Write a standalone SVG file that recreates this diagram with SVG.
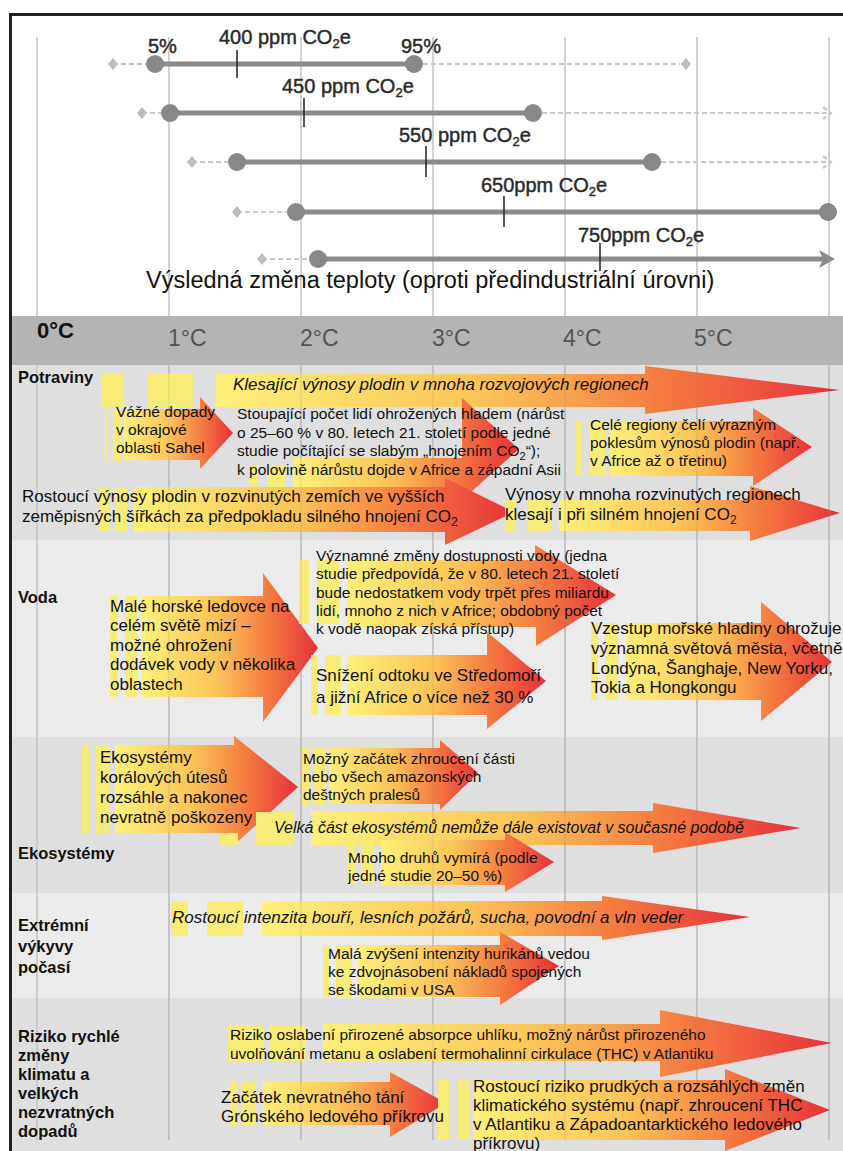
<svg xmlns="http://www.w3.org/2000/svg" width="843" height="1151" viewBox="0 0 843 1151">
<defs>
<style>
.t{font-family:"Liberation Sans",Arial,sans-serif;fill:#111}
.s15{font-size:15.5px}
.s17{font-size:17px}
.it{font-style:italic}
.lab{font-family:"Liberation Sans",Arial,sans-serif;font-weight:bold;font-size:16.5px;fill:#111}
.ppm{font-family:"Liberation Sans",Arial,sans-serif;font-size:20px;fill:#2a2a2a;stroke:#2a2a2a;stroke-width:0.45}
.deg{font-family:"Liberation Sans",Arial,sans-serif;font-size:23px;fill:#555}
.st{fill:#f8ec78}
.ar{fill:url(#grad)}
.grid{stroke:#c4c4c4;stroke-width:1.5}
.gridov{stroke:#8a8a8a;stroke-width:1;opacity:0.25}
.dash{stroke:#c8c8c8;stroke-width:2.2;stroke-dasharray:5 3;fill:none}
.bar{stroke:#8a8a8a;stroke-width:5}
.dot{fill:#888}
.dia{fill:#bdbdbd}
.tick{stroke:#222;stroke-width:1.5}
</style>
<linearGradient id="grad" x1="0" y1="0" x2="1" y2="0">
<stop offset="0" stop-color="#fdf07a"/>
<stop offset="0.42" stop-color="#fcc558"/>
<stop offset="0.72" stop-color="#f47a40"/>
<stop offset="1" stop-color="#e8303a"/>
</linearGradient>
</defs>
<rect width="843" height="1151" fill="#fff"/>
<g id="backgrounds">
<rect x="12" y="365" width="831" height="175" fill="#dfdfdf"/>
<rect x="12" y="540" width="831" height="197" fill="#ebebeb"/>
<rect x="12" y="737" width="831" height="156" fill="#dfdfdf"/>
<rect x="12" y="893" width="831" height="105" fill="#ebebeb"/>
<rect x="12" y="998" width="831" height="153" fill="#dfdfdf"/>
</g>
<g id="gridlines">
<path class="grid" d="M37,37V316M169,37V316M301,37V316M433,37V316M565,37V316M697,37V316M829,37V316"/>
<path class="grid" d="M37,365V1140M169,365V1140M301,365V1140M433,365V1140M565,365V1140M697,365V1140M829,365V1140"/>
</g>
<g id="axis">
<rect x="12" y="316" width="831" height="49" fill="#b4b4b4"/>
<text x="37" y="338" font-family="Liberation Sans, Arial, sans-serif" font-weight="bold" font-size="22" fill="#111">0°C</text>
<text class="deg" x="168" y="346">1°C</text>
<text class="deg" x="300" y="346">2°C</text>
<text class="deg" x="432" y="346">3°C</text>
<text class="deg" x="563" y="346">4°C</text>
<text class="deg" x="694" y="346">5°C</text>
</g>
<g id="frame">
<rect x="9" y="13" width="834" height="3" fill="#222"/>
<rect x="9" y="13" width="3" height="1138" fill="#222"/>
</g>
<g id="ranges">
<g id="r400">
<path class="dash" d="M113,64H146M423,64H680"/>
<path class="bar" d="M155,64H414"/>
<path class="dia" d="M113,58l5,6l-5,6l-5,-6z M686,58l5,6l-5,6l-5,-6z"/>
<circle class="dot" cx="155" cy="64" r="9"/><circle class="dot" cx="414" cy="64" r="9"/>
<path class="tick" d="M237,50V78"/>
<text class="ppm" x="148" y="53">5%</text>
<text class="ppm" x="219" y="44">400 ppm CO<tspan dy="4" font-size="13">2</tspan><tspan dy="-4">e</tspan></text>
<text class="ppm" x="401" y="53">95%</text>
</g>
<g id="r450">
<path class="dash" d="M142,113H161M542,113H830"/>
<path class="dash" d="M823,107L831,113L823,119"/>
<path class="bar" d="M170,113H533"/>
<path class="dia" d="M142,107l5,6l-5,6l-5,-6z"/>
<circle class="dot" cx="170" cy="113" r="9"/><circle class="dot" cx="533" cy="113" r="9"/>
<path class="tick" d="M304,98V127"/>
<text class="ppm" x="282" y="93">450 ppm CO<tspan dy="4" font-size="13">2</tspan><tspan dy="-4">e</tspan></text>
</g>
<g id="r550">
<path class="dash" d="M192,162H228M661,162H830"/>
<path class="dash" d="M823,156L831,162L823,168"/>
<path class="bar" d="M237,162H652"/>
<path class="dia" d="M192,156l5,6l-5,6l-5,-6z"/>
<circle class="dot" cx="237" cy="162" r="9"/><circle class="dot" cx="652" cy="162" r="9"/>
<path class="tick" d="M426,146V177"/>
<text class="ppm" x="399" y="142">550 ppm CO<tspan dy="4" font-size="13">2</tspan><tspan dy="-4">e</tspan></text>
</g>
<g id="r650">
<path class="dash" d="M237,212H287"/>
<path class="bar" d="M296,212H828"/>
<path class="dia" d="M237,206l5,6l-5,6l-5,-6z"/>
<circle class="dot" cx="296" cy="212" r="9"/><circle class="dot" cx="828" cy="212" r="9"/>
<path class="tick" d="M504,196V227"/>
<text class="ppm" x="481" y="192">650ppm CO<tspan dy="4" font-size="13">2</tspan><tspan dy="-4">e</tspan></text>
</g>
<g id="r750">
<path class="dash" d="M262,259H309"/>
<path class="bar" d="M318,259H826"/>
<path d="M819,250L835,259L819,268L823,259Z" fill="#8a8a8a"/>
<path class="dia" d="M262,253l5,6l-5,6l-5,-6z"/>
<circle class="dot" cx="318" cy="259" r="9"/>
<path class="tick" d="M600,243V271"/>
<text class="ppm" x="578" y="242">750ppm CO<tspan dy="4" font-size="13">2</tspan><tspan dy="-4">e</tspan></text>
</g>
<text x="146" y="288" font-family="Liberation Sans, Arial, sans-serif" font-size="23.5" fill="#111">Výsledná změna teploty (oproti předindustriální úrovni)</text>
</g>

<g id="labels">
<text class="lab" x="18" y="383">Potraviny</text>
<text class="lab" x="18" y="603">Voda</text>
<text class="lab" x="18" y="859">Ekosystémy</text>
<text class="lab" x="18"><tspan x="18" y="931">Extrémní</tspan><tspan x="18" y="952">výkyvy</tspan><tspan x="18" y="973">počasí</tspan></text>
<text class="lab" x="18"><tspan x="18" y="1042">Riziko rychlé</tspan><tspan x="18" y="1061">změny</tspan><tspan x="18" y="1080">klimatu a</tspan><tspan x="18" y="1099">velkých</tspan><tspan x="18" y="1118">nezvratných</tspan><tspan x="18" y="1137">dopadů</tspan></text>
</g>

<g id="potraviny">
<g id="arrowA"><rect class="st" x="101" y="374" width="23" height="33"/><rect class="st" x="147" y="374" width="46" height="33"/><path class="ar" d="M216,374H645V366L840,390L645,414V407H216Z"/></g>
<g id="arrowB"><rect class="st" x="105" y="410" width="3" height="52"/><rect class="st" x="113" y="410" width="8" height="52"/><path class="ar" d="M124,409H200V397L233,433L200,469V460H124Z"/></g>
<g id="arrowC"><rect class="st" x="249" y="466" width="8" height="25"/><rect class="st" x="267" y="466" width="18" height="25"/><path class="ar" d="M293,458H462V398L519,449L462,500V492H293Z"/></g>
<g id="arrowD"><rect class="st" x="576" y="422" width="6" height="54"/><rect class="st" x="590" y="422" width="15" height="54"/><path class="ar" d="M610,421H753V408L812,447L753,486V476H610Z"/></g>
<g id="arrowE"><rect class="st" x="99" y="487" width="10" height="45"/><rect class="st" x="115" y="487" width="12" height="45"/><path class="ar" d="M134,487H445V478L514,512L445,545V532H134Z"/></g>
<g id="arrowF"><rect class="st" x="505" y="500" width="11" height="31"/><rect class="st" x="527" y="500" width="24" height="31"/><path class="ar" d="M559,500H750V486L840,513L750,541V531H559Z"/></g>
</g>

<g id="voda">
<g id="arrowG"><rect class="st" x="110" y="596" width="7" height="101"/><rect class="st" x="125" y="596" width="12" height="101"/><path class="ar" d="M142,596H263V573L318,648L263,722V697H142Z"/></g>
<g id="arrowH"><rect class="st" x="299" y="560" width="10" height="64"/><rect class="st" x="317" y="560" width="22" height="64"/><path class="ar" d="M347,560H535V545L616,595L536,646V627H347Z"/></g>
<g id="arrowI"><rect class="st" x="311" y="655" width="7" height="60"/><rect class="st" x="325" y="655" width="16" height="60"/><path class="ar" d="M347,655H487V632L546,681L487,729V715H347Z"/></g>
<g id="arrowJ"><rect class="st" x="591" y="623" width="7" height="77"/><rect class="st" x="605" y="623" width="13" height="77"/><path class="ar" d="M626,623H761V602L832,662L761,721V700H626Z"/></g>
</g>

<g id="ekosystemy">
<g id="arrowK"><rect class="st" x="82" y="745" width="7" height="88"/><rect class="st" x="96" y="745" width="13" height="88"/><path class="ar" d="M115,745H234V736L298,787L234,845V833H115Z"/></g>
<g id="arrowL"><rect class="st" x="302" y="748" width="7" height="57"/><rect class="st" x="313" y="748" width="12" height="57"/><path class="ar" d="M329,748H440V740L478,773L440,810V804H329Z"/></g>
<g id="arrowM"><rect class="st" x="219" y="833" width="19" height="12"/><rect class="st" x="256" y="812" width="37" height="33"/><path class="ar" d="M311,811H653V803L801,828L653,853V845H311Z"/></g>
<g id="arrowN"><rect class="st" x="348" y="840" width="7" height="44"/><rect class="st" x="361" y="840" width="13" height="44"/><path class="ar" d="M381,840H505V832L554,862L505,892V885H381Z"/></g>
</g>

<g id="extremni">
<g id="arrowO"><rect class="st" x="171" y="901" width="17" height="35"/><rect class="st" x="207" y="901" width="36" height="35"/><path class="ar" d="M262,901H602V896L750,917L602,940V936H262Z"/></g>
<g id="arrowP"><rect class="st" x="323" y="945" width="6" height="52"/><rect class="st" x="336" y="945" width="16" height="52"/><path class="ar" d="M358,945H500V932L559,966L500,1005V997H358Z"/></g>
</g>

<g id="riziko">
<g id="arrowQ"><rect class="st" x="228" y="1026" width="36" height="35"/><rect class="st" x="269" y="1026" width="37" height="35"/><path class="ar" d="M323,1024H660V1010L832,1043L660,1077V1061H323Z"/></g>
<g id="arrowR"><rect class="st" x="230" y="1082" width="7" height="43"/><rect class="st" x="242" y="1082" width="13" height="43"/><path class="ar" d="M263,1082H390V1072L446,1103L390,1137V1125H263Z"/></g>
<g id="arrowS"><rect class="st" x="438" y="1080" width="11" height="60"/><rect class="st" x="458" y="1080" width="12" height="60"/><path class="ar" d="M474,1080H725V1069L830,1110L725,1151V1140H474Z"/></g>
</g>

<g id="grid-overlay">
<path class="gridov" d="M169,365V1140M301,365V1140M433,365V1140M565,365V1140M697,365V1140M829,365V1140"/>
</g>

<g id="texts">
<text class="t s17 it" x="233" y="390">Klesající výnosy plodin v mnoha rozvojových regionech</text>
<text class="t s15"><tspan x="116" y="417">Vážné dopady</tspan><tspan x="116" y="435">v okrajové</tspan><tspan x="116" y="453">oblasti Sahel</tspan></text>
<text class="t s15"><tspan x="237" y="419">Stoupající počet lidí ohrožených hladem (nárůst</tspan><tspan x="237" y="438">o 25–60 % v 80. letech 21. století podle jedné</tspan><tspan x="237" y="456">studie počítající se slabým „hnojením CO<tspan dy="4" font-size="11">2</tspan><tspan dy="-4">“);</tspan></tspan><tspan x="237" y="475">k polovině nárůstu dojde v Africe a západní Asii</tspan></text>
<text class="t s15"><tspan x="590" y="430">Celé regiony čelí výrazným</tspan><tspan x="590" y="448">poklesům výnosů plodin (např.</tspan><tspan x="590" y="466">v Africe až o třetinu)</tspan></text>
<text class="t s17"><tspan x="22" y="502">Rostoucí výnosy plodin v rozvinutých zemích ve vyšších</tspan><tspan x="22" y="522">zeměpisných šířkách za předpokladu silného hnojení CO<tspan dy="4" font-size="12">2</tspan></tspan></text>
<text class="t s17"><tspan x="505" y="500">Výnosy v mnoha rozvinutých regionech</tspan><tspan x="505" y="520">klesají i při silném hnojení CO<tspan dy="4" font-size="12">2</tspan></tspan></text>
<text class="t s15"><tspan x="316" y="561">Významné změny dostupnosti vody (jedna</tspan><tspan x="316" y="579">studie předpovídá, že v 80. letech 21. století</tspan><tspan x="316" y="598">bude nedostatkem vody trpět přes miliardu</tspan><tspan x="316" y="616">lidí, mnoho z nich v Africe; obdobný počet</tspan><tspan x="316" y="634">k vodě naopak získá přístup)</tspan></text>
<text class="t s17"><tspan x="110" y="612">Malé horské ledovce na</tspan><tspan x="110" y="631">celém světě mizí –</tspan><tspan x="110" y="651">možné ohrožení</tspan><tspan x="110" y="670">dodávek vody v několika</tspan><tspan x="110" y="690">oblastech</tspan></text>
<text class="t s17"><tspan x="316" y="681">Snížení odtoku ve Středomoří</tspan><tspan x="316" y="703">a jižní Africe o více než 30 %</tspan></text>
<text class="t s17"><tspan x="591" y="634">Vzestup mořské hladiny ohrožuje</tspan><tspan x="591" y="654">významná světová města, včetně</tspan><tspan x="591" y="674">Londýna, Šanghaje, New Yorku,</tspan><tspan x="591" y="693">Tokia a Hongkongu</tspan></text>
<text class="t s17"><tspan x="100" y="763">Ekosystémy</tspan><tspan x="100" y="783">korálových útesů</tspan><tspan x="100" y="803">rozsáhle a nakonec</tspan><tspan x="100" y="823">nevratně poškozeny</tspan></text>
<text class="t s15"><tspan x="303" y="764">Možný začátek zhroucení části</tspan><tspan x="303" y="782">nebo všech amazonských</tspan><tspan x="303" y="800">deštných pralesů</tspan></text>
<text class="t it" font-size="16" x="274" y="833">Velká část ekosystémů nemůže dále existovat v současné podobě</text>
<text class="t s15"><tspan x="348" y="863">Mnoho druhů vymírá (podle</tspan><tspan x="348" y="881">jedné studie 20–50 %)</tspan></text>
<text class="t s17 it" x="172" y="923">Rostoucí intenzita bouří, lesních požárů, sucha, povodní a vln veder</text>
<text class="t s15"><tspan x="328" y="959">Malá zvýšení intenzity hurikánů vedou</tspan><tspan x="328" y="977">ke zdvojnásobení nákladů spojených</tspan><tspan x="328" y="995">se škodami v USA</tspan></text>
<text class="t s15"><tspan x="230" y="1040">Riziko oslabení přirozené absorpce uhlíku, možný nárůst přirozeného</tspan><tspan x="230" y="1059">uvolňování metanu a oslabení termohalinní cirkulace (THC) v Atlantiku</tspan></text>
<text class="t s17"><tspan x="221" y="1103">Začátek nevratného tání</tspan><tspan x="221" y="1122">Grónského ledového příkrovu</tspan></text>
<text class="t s17"><tspan x="473" y="1092">Rostoucí riziko prudkých a rozsáhlých změn</tspan><tspan x="473" y="1111">klimatického systému (např. zhroucení THC</tspan><tspan x="473" y="1130">v Atlantiku a Západoantarktického ledového</tspan><tspan x="473" y="1149">příkrovu)</tspan></text>
</g>
</svg>
